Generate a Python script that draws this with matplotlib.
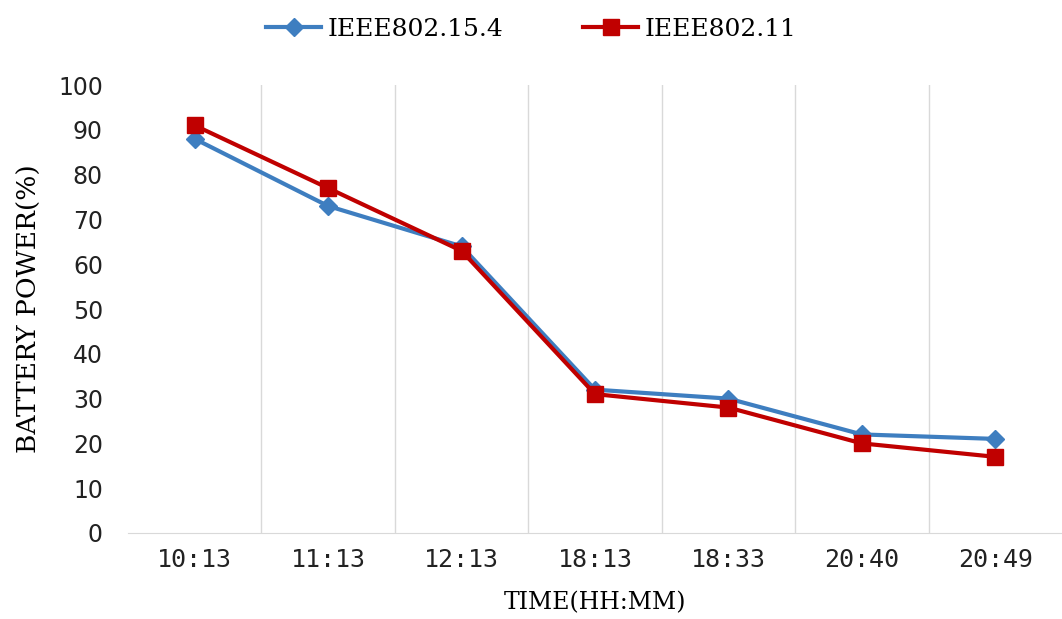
import matplotlib
matplotlib.use("Agg")
import matplotlib.pyplot as plt
import numpy as np

# data
times = ["10:13", "11:13", "12:13", "18:13", "18:33", "20:40", "20:49"]
ieee802154 = [88, 73, 64, 32, 30, 22, 21]
ieee80211 = [91, 77, 63, 31, 28, 20, 17]

fig = plt.figure(figsize=(10.62, 6.19), dpi=100)
ax = fig.add_axes([0.1205, 0.139, 0.8795, 0.7235])

x = np.arange(len(times))
ax.plot(x, ieee802154, color="#3e7ec0", lw=3, marker="D", ms=9, label="IEEE802.15.4")
ax.plot(x, ieee80211, color="#c00000", lw=3, marker="s", ms=11, label="IEEE802.11")

ax.set_xlim(-0.5, len(times) - 0.5)
ax.set_ylim(0, 100)
ax.set_yticks(range(0, 101, 10))
ax.set_xticks(x)
ax.set_xticklabels(times, family="DejaVu Sans Mono", fontsize=18, color="#222222")
for lab in ax.get_yticklabels():
    lab.set_fontsize(17)
    lab.set_color("#222222")

# vertical gridlines between categories
for b in np.arange(0.5, len(times) - 0.5, 1):
    ax.axvline(b, color="#d9d9d9", lw=1, zorder=0)

for s in ["top", "right", "left"]:
    ax.spines[s].set_visible(False)
ax.spines["bottom"].set_color("#d9d9d9")
ax.tick_params(axis="y", length=0, pad=18)
ax.tick_params(axis="x", length=0, pad=11)

ax.set_xlabel("TIME(HH:MM)", family="DejaVu Serif", fontsize=17, labelpad=14)
ax.set_ylabel("BATTERY POWER(%)", family="DejaVu Serif", fontsize=19, labelpad=12)

fig.legend(loc="upper center", bbox_to_anchor=(0.5, 1.008), ncol=2, frameon=False,
           prop={"family": "DejaVu Serif", "size": 18}, handlelength=2.2,
           handletextpad=0.25, columnspacing=3.2)

fig.savefig("out.png", dpi=100)
